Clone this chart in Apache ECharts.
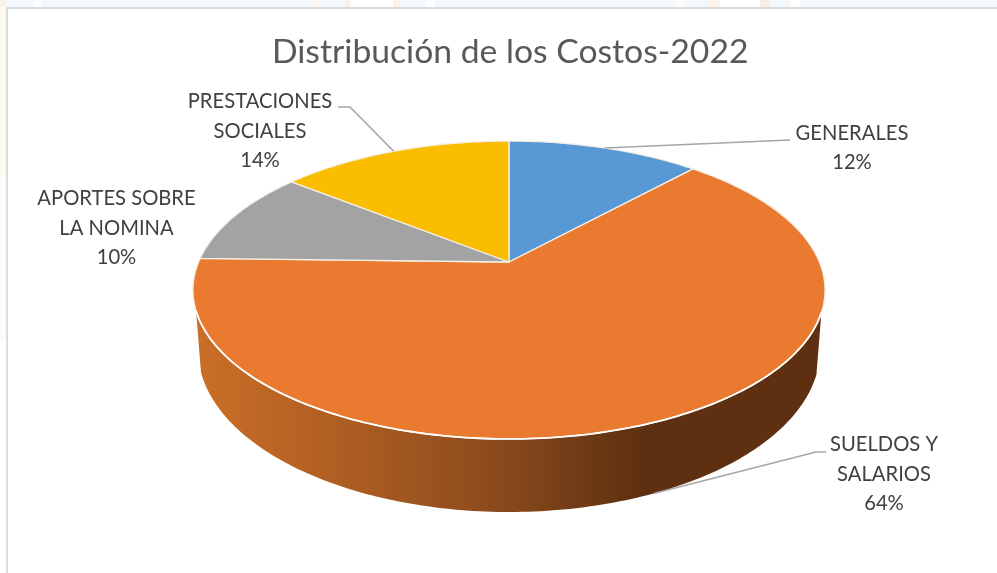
<!DOCTYPE html>
<html><head><meta charset="utf-8">
<style>html,body{margin:0;padding:0;background:#fff}#c{width:997px;height:573px}</style>
<script src="https://cdn.jsdelivr.net/npm/echarts@6/dist/echarts.min.js"></script></head>
<body><div id="c"></div>
<script>
const titleText = 'Distribución de los Costos-2022';
const categories = ['GENERALES', 'SUELDOS Y SALARIOS', 'APORTES SOBRE LA NOMINA', 'PRESTACIONES SOCIALES'];
const labelLines = ['GENERALES', 'SUELDOS Y\nSALARIOS', 'APORTES SOBRE\nLA NOMINA', 'PRESTACIONES\nSOCIALES'];
const values = [11.8, 63.6, 10.3, 14.3];
const colors = ['#5898D4', '#E97A30', '#A3A3A3', '#FBBD00'];

const total = values.reduce((a, b) => a + b, 0);
const FONT = 'Lato, "Open Sans", sans-serif';
// perspective view of the pie's top face
const view = { cx: 509, cy: 262, A: 310.4, B: 143.7, k: 0.188 };
const rim = { cx: 509, cy: 290, a: 316, b: 149 };
const base = { cx: 509, cy: 350, a: 311, b: 162 };
const leaderTargets = [
  [[790, 140]],
  [[816, 452], [826, 452]],
  null,
  [[350, 107], [338, 107]]
];
const labelAnchors = [[852, 148], [884, 474], [116.5, 228], [260, 131]];

function topPoint(t) {
  const u = Math.sin(t), v = Math.cos(t), w = 1 + view.k * v;
  return [view.cx + view.A * u / w, view.cy - view.B * v / w];
}
function basePoint(p) {
  const c = Math.max(-1, Math.min(1, (p[0] - rim.cx) / rim.a));
  const s = Math.sqrt(1 - c * c);
  return [base.cx + base.a * c, base.cy + base.b * s];
}
function angleAt(i) {
  let s = 0;
  for (let j = 0; j < i; j++) s += values[j];
  return s / total * Math.PI * 2;
}
const sideFill = {
  type: 'linear', global: true, x: 200, y: 0, x2: 640, y2: 0,
  colorStops: [
    { offset: 0, color: '#C96E27' },
    { offset: 0.32, color: '#AF5E22' },
    { offset: 0.68, color: '#8A4A1C' },
    { offset: 1, color: '#5E3011' }
  ]
};

function renderItem(params, api) {
  const i = params.dataIndex;
  const a0 = angleAt(i), a1 = angleAt(i + 1);
  const n = Math.max(8, Math.ceil((a1 - a0) * 60));
  const face = [[view.cx, view.cy]];
  const rimPts = [];
  for (let j = 0; j <= n; j++) {
    const p = topPoint(a0 + (a1 - a0) * j / n);
    face.push(p);
    if (p[1] >= rim.cy + 20) rimPts.push(p);
  }
  const children = [];
  if (rimPts.length) {
    const side = rimPts.concat(rimPts.slice().reverse().map(basePoint));
    children.push({ type: 'polygon', z2: 1, shape: { points: side }, style: { fill: sideFill } });
  }
  children.push({ type: 'polygon', z2: 5, shape: { points: face },
    style: { fill: colors[i], stroke: '#F4EFE6', lineWidth: 1.3, lineJoin: 'round' } });
  if (rimPts.length) {
    children.push({ type: 'polyline', z2: 6, shape: { points: rimPts },
      style: { fill: null, stroke: '#FFFFFF', lineWidth: 1.8 } });
  }
  const targets = leaderTargets[i];
  if (targets) {
    const mid = topPoint((a0 + a1) / 2);
    const start = mid[1] > rim.cy ? basePoint(mid) : mid;
    children.push({ type: 'polyline', z2: 7, shape: { points: [start].concat(targets) },
      style: { fill: null, stroke: '#A6A6A6', lineWidth: 1.6 } });
  }
  const pct = Math.round(api.value(0) / total * 100) + '%';
  const anchor = labelAnchors[i];
  children.push({ type: 'text', z2: 8, x: anchor[0], y: anchor[1], style: {
    text: labelLines[i] + '\n' + pct, fill: '#404040',
    font: '400 20.2px ' + FONT, lineHeight: 29.5, align: 'center', verticalAlign: 'middle'
  } });
  return { type: 'group', children };
}

function band(x, width, fill) {
  return { type: 'rect', z: -1, shape: { x, y: 0, width, height: 7 }, style: { fill } };
}
const chart = echarts.init(document.getElementById('c'), null, { renderer: 'canvas' });
chart.setOption({
  animation: false,
  backgroundColor: '#FFFFFF',
  title: { text: titleText, left: 272, top: 35, padding: 0,
    textStyle: { color: '#595959', fontSize: 33.7, fontWeight: 400, fontFamily: FONT } },
  graphic: [
    band(0, 997, '#F2F8FB'),
    band(0, 6, '#FEF3E8'), band(33, 9, '#FBFDFE'), band(310, 12, '#FBF9F6'),
    band(345, 6, '#FDF0E6'), band(351, 42, '#FFFFFF'), band(393, 7, '#FDF1E8'),
    band(425, 10, '#FFFFFF'), band(675, 10, '#FCFCFC'), band(708, 12, '#FDF3EA'),
    band(720, 40, '#FFFFFF'), band(760, 9, '#FCEDE0'), band(790, 10, '#FFFFFF'),
    { type: 'rect', z: -1, shape: { x: 0, y: 7, width: 6, height: 170 }, style: { fill: '#FFF9F3' } },
    { type: 'rect', z: -1, shape: { x: 0, y: 177, width: 6, height: 165 }, style: { fill: '#FFF9FA' } },
    { type: 'rect', z: -1, shape: { x: 6, y: 7, width: 991, height: 2 }, style: { fill: '#D9DCDE' } },
    { type: 'rect', z: -1, shape: { x: 6, y: 7, width: 2, height: 566 }, style: { fill: '#DCDCDC' } }
  ],
  series: [{
    type: 'custom', coordinateSystem: 'none', renderItem,
    data: categories.map((name, i) => ({ name, value: [values[i]] }))
  }]
});
</script></body></html>
